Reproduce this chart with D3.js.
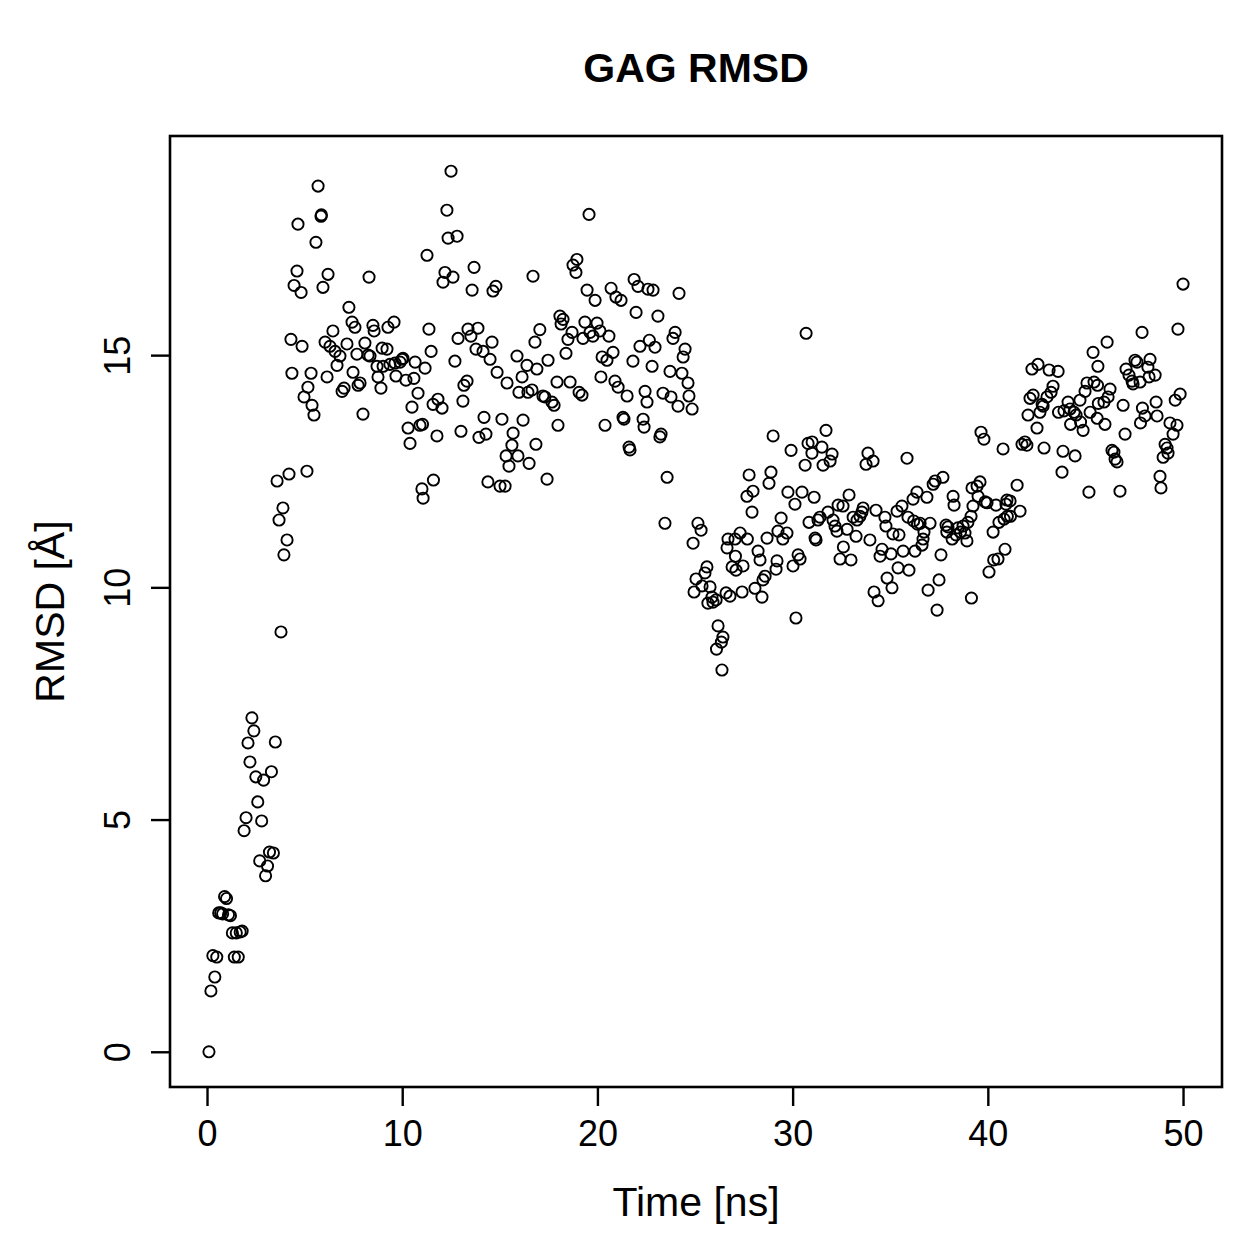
<!DOCTYPE html>
<html>
<head>
<meta charset="utf-8">
<script src="https://d3js.org/d3.v7.min.js"></script>
<style>
  body { margin: 0; background: #fff; }
  text { font-family: "Liberation Sans", Arial, Helvetica, sans-serif; fill: #000; }
</style>
</head>
<body>
<div id="chart"></div>
<script>
// Time [ns] of each frame
const time = [
  0.1,0.2,0.3,0.4,0.5,0.6,0.7,0.8,0.9,1.0,1.1,1.2,1.3,1.4,1.5,1.6,1.7,1.8,1.9,2.0,2.1,2.2,2.3,2.4,2.5,2.6,2.7,2.8,2.9,3.0,3.1,3.2,3.3,3.4,3.5,3.59,3.69,3.79,3.89,3.94,
  4.1,4.2,4.3,4.35,4.46,4.61,4.66,4.82,4.87,4.97,5.12,5.17,5.33,5.38,5.48,5.58,5.69,5.84,5.86,5.94,6.05,6.15,6.2,6.3,6.45,6.56,6.66,6.81,6.92,7.02,7.17,7.27,7.43,7.48,7.58,7.68,7.74,7.84,7.99,
  8.09,8.25,8.3,8.35,8.5,8.56,8.71,8.76,8.91,8.97,9.02,9.22,9.27,9.37,9.58,9.63,9.68,9.89,9.99,10.04,10.19,10.3,10.4,10.5,10.6,10.66,10.81,10.91,11.01,11.04,11.07,11.17,11.27,11.37,11.48,11.58,11.6,11.78,11.83,
  12.04,12.09,12.19,12.29,12.35,12.5,12.6,12.7,12.81,12.86,13.01,13.11,13.16,13.32,13.37,13.52,13.58,13.68,13.78,13.88,13.93,14.14,14.19,14.29,14.39,14.5,14.6,14.65,14.8,14.86,15.01,15.11,15.27,15.32,15.37,15.47,15.62,15.68,15.88,15.93,15.98,
  16.14,16.19,16.39,16.44,16.5,16.65,16.7,16.8,16.85,16.9,17.05,17.21,17.31,17.42,17.47,17.67,17.78,17.93,17.98,18.08,18.14,18.24,18.39,18.49,18.6,18.7,18.75,18.9,18.95,19.06,19.21,19.26,19.36,19.47,19.57,19.62,19.77,19.88,19.98,
  20.13,20.18,20.24,20.39,20.49,20.59,20.7,20.8,20.9,20.95,21.06,21.21,21.31,21.36,21.52,21.62,21.67,21.82,21.88,21.98,22.08,22.18,22.34,22.39,22.44,22.54,22.59,22.66,22.8,22.85,22.95,23.1,23.2,23.26,23.36,23.46,23.57,23.72,23.77,23.87,23.98,
  24.13,24.18,24.33,24.39,24.49,24.64,24.69,24.85,24.9,24.95,25.05,25.15,25.31,25.36,25.51,25.61,25.66,25.77,25.87,25.92,26.08,26.1,26.18,26.35,26.38,26.43,26.59,26.64,26.69,26.79,26.9,27.05,27.07,27.1,27.31,27.41,27.46,27.66,27.68,27.77,27.92,27.97,
  28.07,28.23,28.33,28.43,28.48,28.59,28.69,28.79,28.89,29.0,29.15,29.2,29.25,29.41,29.5,29.71,29.76,29.92,30.02,30.12,30.17,30.28,30.38,30.48,30.64,30.69,30.79,30.84,30.99,31.0,31.1,31.15,31.2,31.3,31.4,31.5,31.56,31.71,31.81,31.92,
  32.02,32.07,32.17,32.27,32.33,32.43,32.58,32.6,32.79,32.89,32.99,33.1,33.25,33.3,33.45,33.55,33.61,33.76,33.86,33.96,34.12,34.17,34.27,34.38,34.48,34.58,34.73,34.78,34.84,35.04,35.09,35.14,35.35,35.4,35.45,35.6,35.66,35.86,35.91,35.96,
  36.17,36.2,36.27,36.37,36.4,36.53,36.63,36.68,36.73,36.88,36.94,37.04,37.2,37.3,37.4,37.5,37.6,37.7,37.86,37.9,37.96,38.17,38.22,38.27,38.37,38.47,38.6,38.73,38.83,38.93,38.98,39.14,39.16,39.19,39.24,39.45,39.5,39.6,39.65,39.8,39.86,39.96,
  40.06,40.27,40.3,40.42,40.52,40.57,40.78,40.83,40.88,40.93,40.98,41.0,41.14,41.16,41.5,41.65,41.75,41.9,42.0,42.06,42.16,42.26,42.32,42.52,42.57,42.67,42.78,42.83,42.88,43.03,43.14,43.24,43.34,43.6,43.62,43.8,43.85,43.9,
  44.11,44.21,44.24,44.42,44.47,44.52,44.72,44.75,44.88,44.98,45.08,45.18,45.24,45.39,45.44,45.6,45.62,45.64,45.66,45.95,46.0,46.11,46.16,46.26,46.36,46.46,46.52,46.62,46.77,46.93,47.03,47.08,47.23,47.39,47.44,47.54,47.64,47.8,47.82,47.9,47.92,48.05,48.2,48.26,48.31,48.57,48.62,48.67,48.82,48.87,48.98,49.08,49.18,49.23,49.33,49.49,49.6,49.69,49.74,49.85,50.0
];

// RMSD [Å], same order as time
const rmsd = [
  0.0,1.31,2.07,1.61,2.04,2.99,2.99,2.97,3.34,3.3,2.95,2.93,2.56,2.04,2.56,2.04,2.58,2.6,4.76,5.04,6.65,6.24,7.19,6.91,5.92,5.38,4.11,4.97,5.85,3.79,4.0,4.3,6.03,4.28,6.67,12.29,11.45,9.04,11.71,10.7,
  11.02,12.44,15.34,14.61,16.5,16.81,17.82,16.35,15.19,14.1,12.5,14.31,14.61,13.92,13.71,17.43,18.64,17.99,18.02,16.46,15.28,14.53,16.74,15.19,15.52,15.08,14.78,14.98,14.22,14.29,15.24,16.03,15.71,14.63,15.6,15.02,14.35,14.4,13.73,
  15.26,15.0,16.68,14.98,15.64,15.52,14.76,14.53,14.29,15.15,14.76,15.13,15.6,14.8,15.71,14.83,14.55,14.85,14.91,14.93,14.46,13.43,13.1,13.88,14.5,14.85,14.18,13.49,12.12,13.51,11.92,14.72,17.15,15.56,15.08,13.94,12.31,13.26,14.05,
  13.86,16.57,16.78,18.12,17.52,18.96,16.68,14.87,17.56,15.36,13.36,14.01,14.35,14.44,15.56,15.41,16.4,16.89,15.13,15.58,13.23,15.08,13.66,13.3,12.27,14.91,15.28,16.38,16.48,14.63,12.18,13.62,12.18,12.83,14.4,12.61,13.06,13.32,14.98,12.83,14.2,
  14.53,13.6,14.78,14.2,12.67,14.25,16.7,15.28,13.08,14.7,15.55,14.12,14.1,12.33,14.89,13.99,13.92,14.42,13.49,15.84,15.67,15.77,15.04,15.34,14.42,15.49,16.94,16.78,17.06,14.2,14.14,15.36,15.71,16.4,18.03,15.49,15.41,16.18,15.69,
  15.52,14.53,14.96,13.49,14.89,15.41,16.44,15.06,14.44,16.25,14.31,16.18,13.66,13.62,14.12,13.02,12.96,14.87,16.63,15.92,16.48,15.19,13.62,13.45,14.22,13.99,16.42,15.32,14.76,16.4,15.17,15.84,13.24,13.3,14.18,11.38,12.37,14.65,14.1,15.36,15.49,
  13.9,16.33,14.61,14.96,15.13,14.4,14.12,13.84,10.95,9.9,10.18,11.38,11.23,10.03,10.31,10.44,9.66,10.01,9.79,9.68,9.73,8.67,9.17,8.82,8.22,8.93,9.88,10.85,11.04,9.81,10.44,11.04,10.67,10.37,11.17,9.9,10.46,11.96,11.04,12.42,11.62,12.07,
  9.98,10.78,10.59,9.79,10.16,10.24,11.06,12.24,12.48,13.26,10.39,10.57,11.21,11.49,11.04,11.17,12.05,12.95,10.46,11.79,9.34,10.7,10.61,12.05,12.63,15.47,13.1,11.4,12.89,13.13,11.94,11.06,11.02,11.45,11.51,13.02,12.63,13.38,11.62,12.72,
  12.87,11.45,11.32,11.21,11.77,10.61,11.75,10.87,11.25,11.99,10.59,11.51,11.1,11.45,11.53,11.62,11.71,12.65,12.89,11.02,12.72,9.9,11.66,9.71,10.67,10.82,11.51,11.32,10.2,10.72,9.99,11.15,11.64,10.42,11.13,11.75,10.78,12.78,11.51,10.37,
  11.9,11.43,10.78,12.05,11.36,11.38,10.91,11.04,11.19,11.94,9.94,11.38,12.22,12.29,9.51,10.16,10.7,12.37,11.34,11.19,11.3,11.04,11.96,11.77,11.13,11.28,11.19,11.32,11.17,11.0,11.4,11.53,9.77,12.14,11.75,12.18,11.96,12.27,13.34,13.19,11.84,11.82,
  10.33,11.19,10.59,11.77,10.61,11.4,12.98,11.47,10.82,11.79,11.88,11.53,11.86,11.53,12.2,11.64,13.08,13.13,13.06,13.71,14.07,14.7,14.14,13.43,14.8,13.77,13.94,13.9,13.0,14.1,14.68,14.2,14.33,14.65,13.77,12.48,12.93,13.8,
  13.99,13.84,13.51,13.77,12.83,13.71,14.03,13.56,13.38,14.22,14.4,12.05,13.77,15.06,14.42,13.64,14.35,14.76,13.96,13.99,13.51,15.28,14.1,14.27,12.95,12.91,12.76,12.7,12.07,13.92,13.3,14.7,14.57,14.44,14.38,14.89,14.85,14.42,13.54,15.49,13.86,13.69,14.74,14.53,14.91,14.57,13.99,13.69,12.39,12.14,12.8,13.08,13.0,12.89,13.54,13.3,14.03,13.49,15.56,14.16,16.53
];

const xTicks = [0, 10, 20, 30, 40, 50];
const yTicks = [0, 5, 10, 15];

const width = 1259, height = 1259;
const box = { left: 170, top: 136, right: 1222, bottom: 1087 };

const points = d3.zip(time, rmsd);
if (time.length !== rmsd.length) console.error("length mismatch", time.length, rmsd.length);

// R style: data range plus 4% on each side
function padded(ext) {
  const d = (ext[1] - ext[0]) * 0.04;
  return [ext[0] - d, ext[1] + d];
}

const x = d3.scaleLinear()
  .domain(padded(d3.extent(time)))
  .range([box.left, box.right]);

const y = d3.scaleLinear()
  .domain(padded(d3.extent(rmsd)))
  .range([box.bottom, box.top]);

const svg = d3.select("#chart").append("svg")
  .attr("width", width)
  .attr("height", height);

// points
svg.append("g")
  .selectAll("circle")
  .data(points)
  .join("circle")
  .attr("cx", d => x(d[0]))
  .attr("cy", d => y(d[1]))
  .attr("r", 5.6)
  .attr("fill", "none")
  .attr("stroke", "#000")
  .attr("stroke-width", 1.9);

// box
svg.append("rect")
  .attr("x", box.left)
  .attr("y", box.top)
  .attr("width", box.right - box.left)
  .attr("height", box.bottom - box.top)
  .attr("fill", "none")
  .attr("stroke", "#000")
  .attr("stroke-width", 2.6);

// x axis
const xAxis = svg.append("g")
  .attr("transform", `translate(0, ${box.bottom})`)
  .call(d3.axisBottom(x).tickValues(xTicks).tickSize(19).tickPadding(14).tickFormat(d3.format("d")));
xAxis.select(".domain").remove();
xAxis.selectAll("line").attr("stroke-width", 2.4);
xAxis.selectAll("text").attr("font-size", 36).attr("font-family", null);

// y axis
const yAxis = svg.append("g")
  .attr("transform", `translate(${box.left}, 0)`)
  .call(d3.axisLeft(y).tickValues(yTicks).tickSize(19).tickFormat(d3.format("d")));
yAxis.select(".domain").remove();
yAxis.selectAll("line").attr("stroke-width", 2.4);
yAxis.selectAll("text")
  .attr("font-size", 36)
  .attr("font-family", null)
  .attr("text-anchor", "middle")
  .attr("x", null)
  .attr("dy", null)
  .attr("transform", "translate(-40, 0) rotate(-90)");

// titles
svg.append("text")
  .attr("x", (box.left + box.right) / 2)
  .attr("y", 82)
  .attr("text-anchor", "middle")
  .attr("font-size", 41)
  .attr("font-weight", "bold")
  .text("GAG RMSD");

svg.append("text")
  .attr("x", (box.left + box.right) / 2)
  .attr("y", 1216)
  .attr("text-anchor", "middle")
  .attr("font-size", 41)
  .text("Time [ns]");

svg.append("text")
  .attr("transform", `translate(64, ${(box.top + box.bottom) / 2}) rotate(-90)`)
  .attr("text-anchor", "middle")
  .attr("font-size", 41)
  .text("RMSD [Å]");
</script>
</body>
</html>
